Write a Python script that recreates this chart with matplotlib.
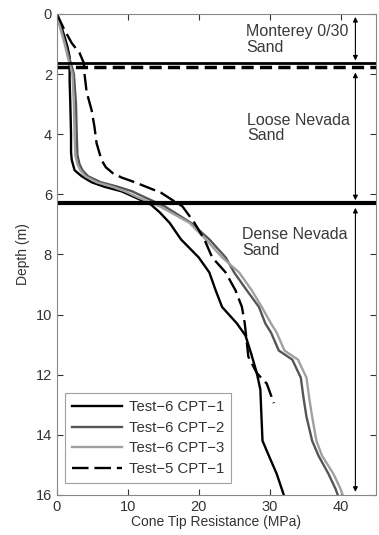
import matplotlib
matplotlib.use("Agg")
import matplotlib.pyplot as plt

plt.rcParams['font.family'] = ['Liberation Sans', 'DejaVu Sans']

# Test-6 CPT-1 (black)
d1 = [0, 0.4, 0.77, 1.1, 1.43, 1.6, 2.2, 3.0, 4.0, 4.6, 4.86, 5.2, 5.4, 5.6, 5.75, 5.9, 6.1, 6.35, 6.6, 6.95, 7.5, 8.1, 8.6, 9.2, 9.75, 10.3, 10.7, 11.3, 11.95, 12.5, 13.1, 14.2, 14.7, 15.3, 16.0]
q1 = [0, 0.6, 1.1, 1.5, 1.8, 1.8, 1.8, 1.9, 2.0, 2.0, 2.1, 2.5, 3.5, 4.9, 6.7, 9.1, 11.0, 13.3, 14.5, 15.9, 17.5, 20.0, 21.5, 22.4, 23.3, 25.4, 26.6, 27.4, 28.2, 28.7, 28.8, 29.0, 29.9, 31.0, 32.0]

# Test-6 CPT-2 (dark grey)
d2 = [0, 0.5, 1.0, 1.5, 2.0, 3.0, 4.0, 4.7, 5.0, 5.2, 5.4, 5.6, 5.75, 5.9, 6.1, 6.4, 6.95, 7.5, 8.1, 8.6, 9.2, 9.75, 10.3, 10.6, 11.2, 11.5, 12.1, 12.8, 13.4, 14.2, 14.7, 15.3, 15.8, 16.0]
q2 = [0, 0.6, 1.2, 1.8, 2.4, 2.7, 2.8, 2.9, 3.2, 3.6, 4.4, 6.2, 8.6, 10.6, 12.4, 15.2, 18.9, 21.5, 23.8, 25.0, 26.8, 28.5, 29.4, 30.2, 31.3, 33.2, 34.4, 34.8, 35.2, 36.0, 36.9, 38.3, 39.3, 39.6]

# Test-6 CPT-3 (light grey)
d3 = [0, 0.5, 1.0, 1.5, 2.0, 3.0, 4.0, 4.7, 5.0, 5.2, 5.4, 5.6, 5.75, 5.9, 6.1, 6.4, 6.95, 7.5, 8.1, 8.6, 9.2, 9.75, 10.3, 10.6, 11.2, 11.5, 12.1, 12.8, 13.4, 14.2, 14.7, 15.3, 15.8, 16.0]
q3 = [0, 0.5, 1.1, 1.6, 2.2, 2.4, 2.5, 2.6, 2.9, 3.3, 4.0, 5.6, 7.8, 9.6, 11.4, 14.5, 18.7, 21.0, 23.3, 25.7, 27.5, 28.9, 30.2, 31.0, 32.1, 34.0, 35.2, 35.6, 36.0, 36.6, 37.4, 39.0, 40.0, 40.3]

# Test-5 CPT-1 (dashed)
d4 = [0, 0.5, 0.97, 1.3, 1.63, 2.0, 2.6, 3.2, 3.75, 4.3, 4.86, 5.1, 5.3, 5.45, 5.6, 5.95, 6.3, 6.4, 6.95, 7.5, 8.1, 8.6, 9.2, 9.75, 10.3, 10.95, 11.4, 11.95, 12.3, 12.95]
q4 = [0, 1.0, 2.1, 3.2, 3.8, 3.9, 4.2, 4.9, 5.3, 5.6, 6.3, 6.9, 7.9, 9.2, 11.0, 14.7, 17.0, 17.7, 19.4, 20.8, 21.9, 23.8, 25.2, 26.1, 26.5, 26.8, 27.0, 28.2, 29.6, 30.6]

labels = ['Test\u22126 CPT\u22121', 'Test\u22126 CPT\u22122', 'Test\u22126 CPT\u22123', 'Test\u22125 CPT\u22121']

layer_texts = ['Monterey 0/30\nSand', 'Loose Nevada\nSand', 'Dense Nevada\nSand']
layer_text_depth = [0.85, 3.8, 7.6]
arrow_ranges = [(0.1, 1.55), (1.95, 6.2), (6.45, 15.9)]

fig = plt.figure(figsize=(3.79, 5.35), dpi=100)
ax = fig.add_axes([0.150, 0.075, 0.842, 0.899])

ax.plot(q1, d1, color='black', lw=1.7, label=labels[0])
ax.plot(q2, d2, color='#555555', lw=1.7, label=labels[1])
ax.plot(q3, d3, color='#a0a0a0', lw=1.7, label=labels[2])
ax.plot(q4, d4, color='black', lw=1.7, dashes=(7, 2.5), label=labels[3])

ax.axhline(1.63, color='black', lw=2.0)
ax.axhline(1.77, color='black', lw=2.5, dashes=(3.5, 1.8))
ax.axhline(6.3, color='black', lw=3.0)

for (a, b) in arrow_ranges:
    ax.annotate('', xy=(42.1, a), xytext=(42.1, b),
                arrowprops=dict(arrowstyle='<|-|>', color='black', lw=0.8,
                                mutation_scale=7, shrinkA=0, shrinkB=0))

xs = [26.7, 26.8, 26.1]
for t, y, x in zip(layer_texts, layer_text_depth, xs):
    ax.text(x, y, t, fontsize=11.5, color='#3a3a3a', va='center', ha='left', linespacing=1.05)

ax.set_xlim(0, 45)
ax.set_ylim(16, 0)
ax.set_xticks([0, 10, 20, 30, 40])
ax.set_yticks([0, 2, 4, 6, 8, 10, 12, 14, 16])
ax.tick_params(direction='in', top=True, right=True, labelsize=10.5, colors='#333333', length=4)
for s in ax.spines.values():
    s.set_color('#888888')
    s.set_linewidth(0.8)

ax.set_xlabel('Cone Tip Resistance (MPa)', fontsize=10, color='#333333', labelpad=1)
ax.set_ylabel('Depth (m)', fontsize=10, color='#333333', labelpad=4)

leg = ax.legend(loc='lower left', bbox_to_anchor=(0.025, 0.025), fontsize=10.7,
                handlelength=3.4, frameon=True, fancybox=False, borderpad=0.45,
                labelspacing=0.45, handletextpad=0.45, borderaxespad=0)
leg.get_frame().set_edgecolor('#888888')
leg.get_frame().set_linewidth(0.8)
for t in leg.get_texts():
    t.set_color('#333333')

fig.savefig('out.png', dpi=100)
